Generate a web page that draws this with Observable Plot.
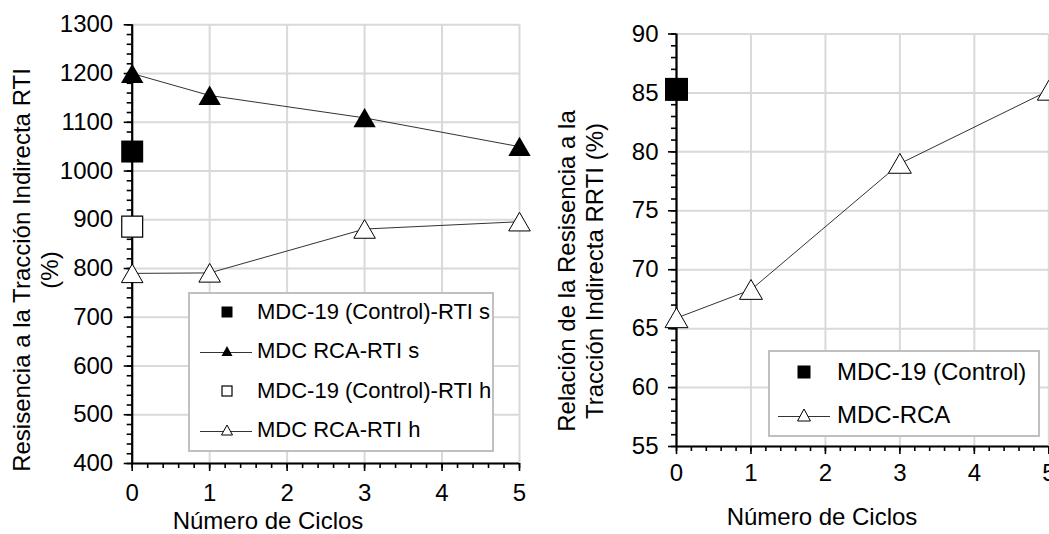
<!DOCTYPE html>
<html><head><meta charset="utf-8">
<script src="https://cdn.jsdelivr.net/npm/d3@7"></script>
<script src="https://cdn.jsdelivr.net/npm/@observablehq/plot@0.6"></script>
<style>
html,body{margin:0;padding:0;background:#fff;overflow:hidden;}
#wrap{position:relative;width:1049px;height:534px;font-family:"Liberation Sans",Arial,sans-serif;color:#000;overflow:hidden;}
.panel{position:absolute;top:0;}
.panel svg{max-width:none !important;overflow:visible;}
.ytitle{position:absolute;white-space:nowrap;font-size:24px;line-height:28px;text-align:center;transform:translate(-50%,-50%) rotate(-90deg);}
.xtitle{position:absolute;white-space:nowrap;font-size:24px;line-height:28px;transform:translate(-50%,-50%);}
.legend{position:absolute;background:#fff;border:2px solid #c0c0c0;box-sizing:border-box;}
.lrow{position:absolute;white-space:nowrap;transform:translateY(-50%);}
.lsym{position:absolute;transform:translate(-50%,-50%);}
</style></head>
<body>
<div id="wrap"></div>
<script>
// ---- data ----
const ciclos = [0, 1, 3, 5];
const rtiSecoRCA = [1200, 1155, 1109, 1050];
const rtiHumRCA = [790, 791, 881, 896];
const cicloControl = [0];
const rtiSecoControl = [1040];
const rtiHumControl = [886];
const rrtiRCA = [65.9, 68.3, 79.0, 85.2];
const rrtiControl = [85.3];

const xTicks = [0, 1, 2, 3, 4, 5];
const yTicksLeft = [400, 500, 600, 700, 800, 900, 1000, 1100, 1200, 1300];
const yTicksRight = [55, 60, 65, 70, 75, 80, 85, 90];

const leftLegend = ["MDC-19 (Control)-RTI s", "MDC RCA-RTI s", "MDC-19 (Control)-RTI h", "MDC RCA-RTI h"];
const rightLegend = ["MDC-19 (Control)", "MDC-RCA"];
const xTitle = "Número de Ciclos";
const leftYTitle = ["Resisencia a la Tracción Indirecta RTI", "(%)"];
const rightYTitle = ["Relación de la Resisencia a la", "Tracción Indirecta RRTI (%)"];

// ---- helpers ----
const minorTicks = (lo, hi, step) => d3.range(Math.round((hi - lo) / step) + 1).map(i => +(lo + i * step).toFixed(6));
const zip = (xs, ys) => xs.map((x, i) => ({x, y: ys[i]}));
const FONT = '"Liberation Sans", Arial, sans-serif';
const GRID = "#d9d9d9";
const LINE = "#333333";

function panel({yDomain, yTicks, yMinorStep, width, ml, mr, mt, mb, xPad, yPad, series}) {
  return Plot.plot({
    width, height: 534,
    marginLeft: ml, marginRight: mr, marginTop: mt, marginBottom: mb,
    x: {domain: [0, 5], label: null},
    y: {domain: yDomain, label: null},
    style: {fontFamily: FONT, fontSize: "24px", color: "#000", background: "transparent", overflow: "visible"},
    marks: [
      Plot.gridX(xTicks, {stroke: GRID, strokeOpacity: 1, strokeWidth: 2}),
      Plot.gridY(yTicks, {stroke: GRID, strokeOpacity: 1, strokeWidth: 2}),
      Plot.axisX(minorTicks(0, 5, 0.2), {tickSize: 5, tickFormat: () => "", stroke: "#000", strokeWidth: 1.6, label: null}),
      Plot.axisX(xTicks, {tickSize: 8, tickPadding: xPad, tickFormat: d => String(d), fontSize: 24, fill: "#000", stroke: "#000", strokeWidth: 1.6, label: null}),
      Plot.axisY(minorTicks(yDomain[0], yDomain[1], yMinorStep), {tickSize: 5, tickFormat: () => "", stroke: "#000", strokeWidth: 1.6, label: null}),
      Plot.axisY(yTicks, {tickSize: 8, tickPadding: yPad, tickFormat: d => String(d), fontSize: 24, fill: "#000", stroke: "#000", strokeWidth: 1.6, label: null}),
      Plot.ruleX([0], {stroke: "#000", strokeWidth: 2.2}),
      Plot.ruleY([yDomain[0]], {stroke: "#000", strokeWidth: 2.2}),
      ...series
    ]
  });
}

const wrap = document.getElementById("wrap");

// ---- left panel ----
const seco = zip(ciclos, rtiSecoRCA), hum = zip(ciclos, rtiHumRCA);
const left = panel({
  yDomain: [400, 1300], yTicks: yTicksLeft, yMinorStep: 20,
  width: 540, ml: 131.7, mr: 21, mt: 24.3, mb: 71, xPad: 12, yPad: 11,
  series: [
    Plot.line(seco, {x: "x", y: "y", stroke: LINE, strokeWidth: 1}),
    Plot.line(hum, {x: "x", y: "y", stroke: LINE, strokeWidth: 1}),
    Plot.dot(zip(cicloControl, rtiSecoControl), {x: "x", y: "y", symbol: "square", r: 12.4, fill: "#000", stroke: "none"}),
    Plot.dot(zip(cicloControl, rtiHumControl), {x: "x", y: "y", symbol: "square", r: 11.8, fill: "#fff", stroke: "#000", strokeWidth: 1.2}),
    Plot.dot(seco, {x: "x", y: "y", symbol: "triangle", r: 8.3, fill: "#000", stroke: "none", dy: 3}),
    Plot.dot(hum, {x: "x", y: "y", symbol: "triangle", r: 8.0, fill: "#fff", stroke: "#000", strokeWidth: 1, dy: 3})
  ]
});
const lp = document.createElement("div"); lp.className = "panel"; lp.style.left = "0px"; lp.appendChild(left); wrap.appendChild(lp);

// ---- right panel ----
const rrti = zip(ciclos, rrtiRCA);
const right = panel({
  yDomain: [55, 90], yTicks: yTicksRight, yMinorStep: 1,
  width: 509, ml: 136, mr: 0.7, mt: 33.5, mb: 88, xPad: 9, yPad: 10,
  series: [
    Plot.line(rrti, {x: "x", y: "y", stroke: LINE, strokeWidth: 1}),
    Plot.dot(zip(cicloControl, rrtiControl), {x: "x", y: "y", symbol: "square", r: 13, fill: "#000", stroke: "none"}),
    Plot.dot(rrti, {x: "x", y: "y", symbol: "triangle", r: 8.5, fill: "#fff", stroke: "#000", strokeWidth: 1, dy: 3})
  ]
});
const rp = document.createElement("div"); rp.className = "panel"; rp.style.left = "540px"; rp.appendChild(right); wrap.appendChild(rp);

// ---- titles ----
function addDiv(cls, x, y, html, extra) {
  const d = document.createElement("div");
  d.className = cls; d.style.left = x + "px"; d.style.top = y + "px"; d.innerHTML = html;
  if (extra) Object.assign(d.style, extra);
  wrap.appendChild(d); return d;
}
addDiv("ytitle", 36, 270, leftYTitle.join("<br>"));
addDiv("ytitle", 581, 271, rightYTitle.join("<br>"));
addDiv("xtitle", 268, 521, xTitle);
addDiv("xtitle", 822, 517, xTitle);

// ---- legends ----
function glyph(kind, size) {
  const s = size, h = s / 2;
  if (kind === "sqFill") return `<svg width="${s}" height="${s}"><rect x="0.5" y="0.5" width="${s-1}" height="${s-1}" fill="#000"/></svg>`;
  if (kind === "sqOpen") return `<svg width="${s}" height="${s}"><rect x="1" y="1" width="${s-2}" height="${s-2}" fill="#fff" stroke="#000" stroke-width="1.2"/></svg>`;
  if (kind === "triFill") return `<svg width="${s}" height="${s}"><path d="M${h},1L${s-0.5},${s-1}L0.5,${s-1}Z" fill="#000"/></svg>`;
  if (kind === "triOpen") return `<svg width="${s}" height="${s}"><path d="M${h},1L${s-0.5},${s-1}L0.5,${s-1}Z" fill="#fff" stroke="#000" stroke-width="1"/></svg>`;
}
function legend(box, rows, fontSize) {
  addDiv("legend", box.x, box.y, "", {width: box.w + "px", height: box.h + "px"});
  rows.forEach(r => {
    if (r.line) addDiv("lsym", (r.lx1 + r.lx2) / 2, r.y, `<svg width="${r.lx2 - r.lx1}" height="2"><line x1="0" x2="${r.lx2 - r.lx1}" y1="1" y2="1" stroke="${LINE}" stroke-width="1"/></svg>`, {lineHeight: 0});
    addDiv("lsym", r.sx, r.y, glyph(r.kind, r.size), {lineHeight: 0});
    addDiv("lrow", r.tx, r.y, r.text, {fontSize: fontSize + "px"});
  });
}
const lRowsY = [312, 351, 391, 430];
const lKinds = ["sqFill", "triFill", "sqOpen", "triOpen"];
legend({x: 188, y: 292, w: 306, h: 160},
  leftLegend.map((t, i) => ({text: t, y: lRowsY[i], kind: lKinds[i], size: 12, sx: 227, tx: 257, line: i % 2 === 1, lx1: 200, lx2: 252})), 22);
const rRowsY = [372, 415];
const rKinds = ["sqFill", "triOpen"];
legend({x: 768, y: 350, w: 272, h: 87},
  rightLegend.map((t, i) => ({text: t, y: rRowsY[i], kind: rKinds[i], size: 14, sx: 804, tx: 837, line: i === 1, lx1: 778, lx2: 830})), 24);
</script>
</body></html>
